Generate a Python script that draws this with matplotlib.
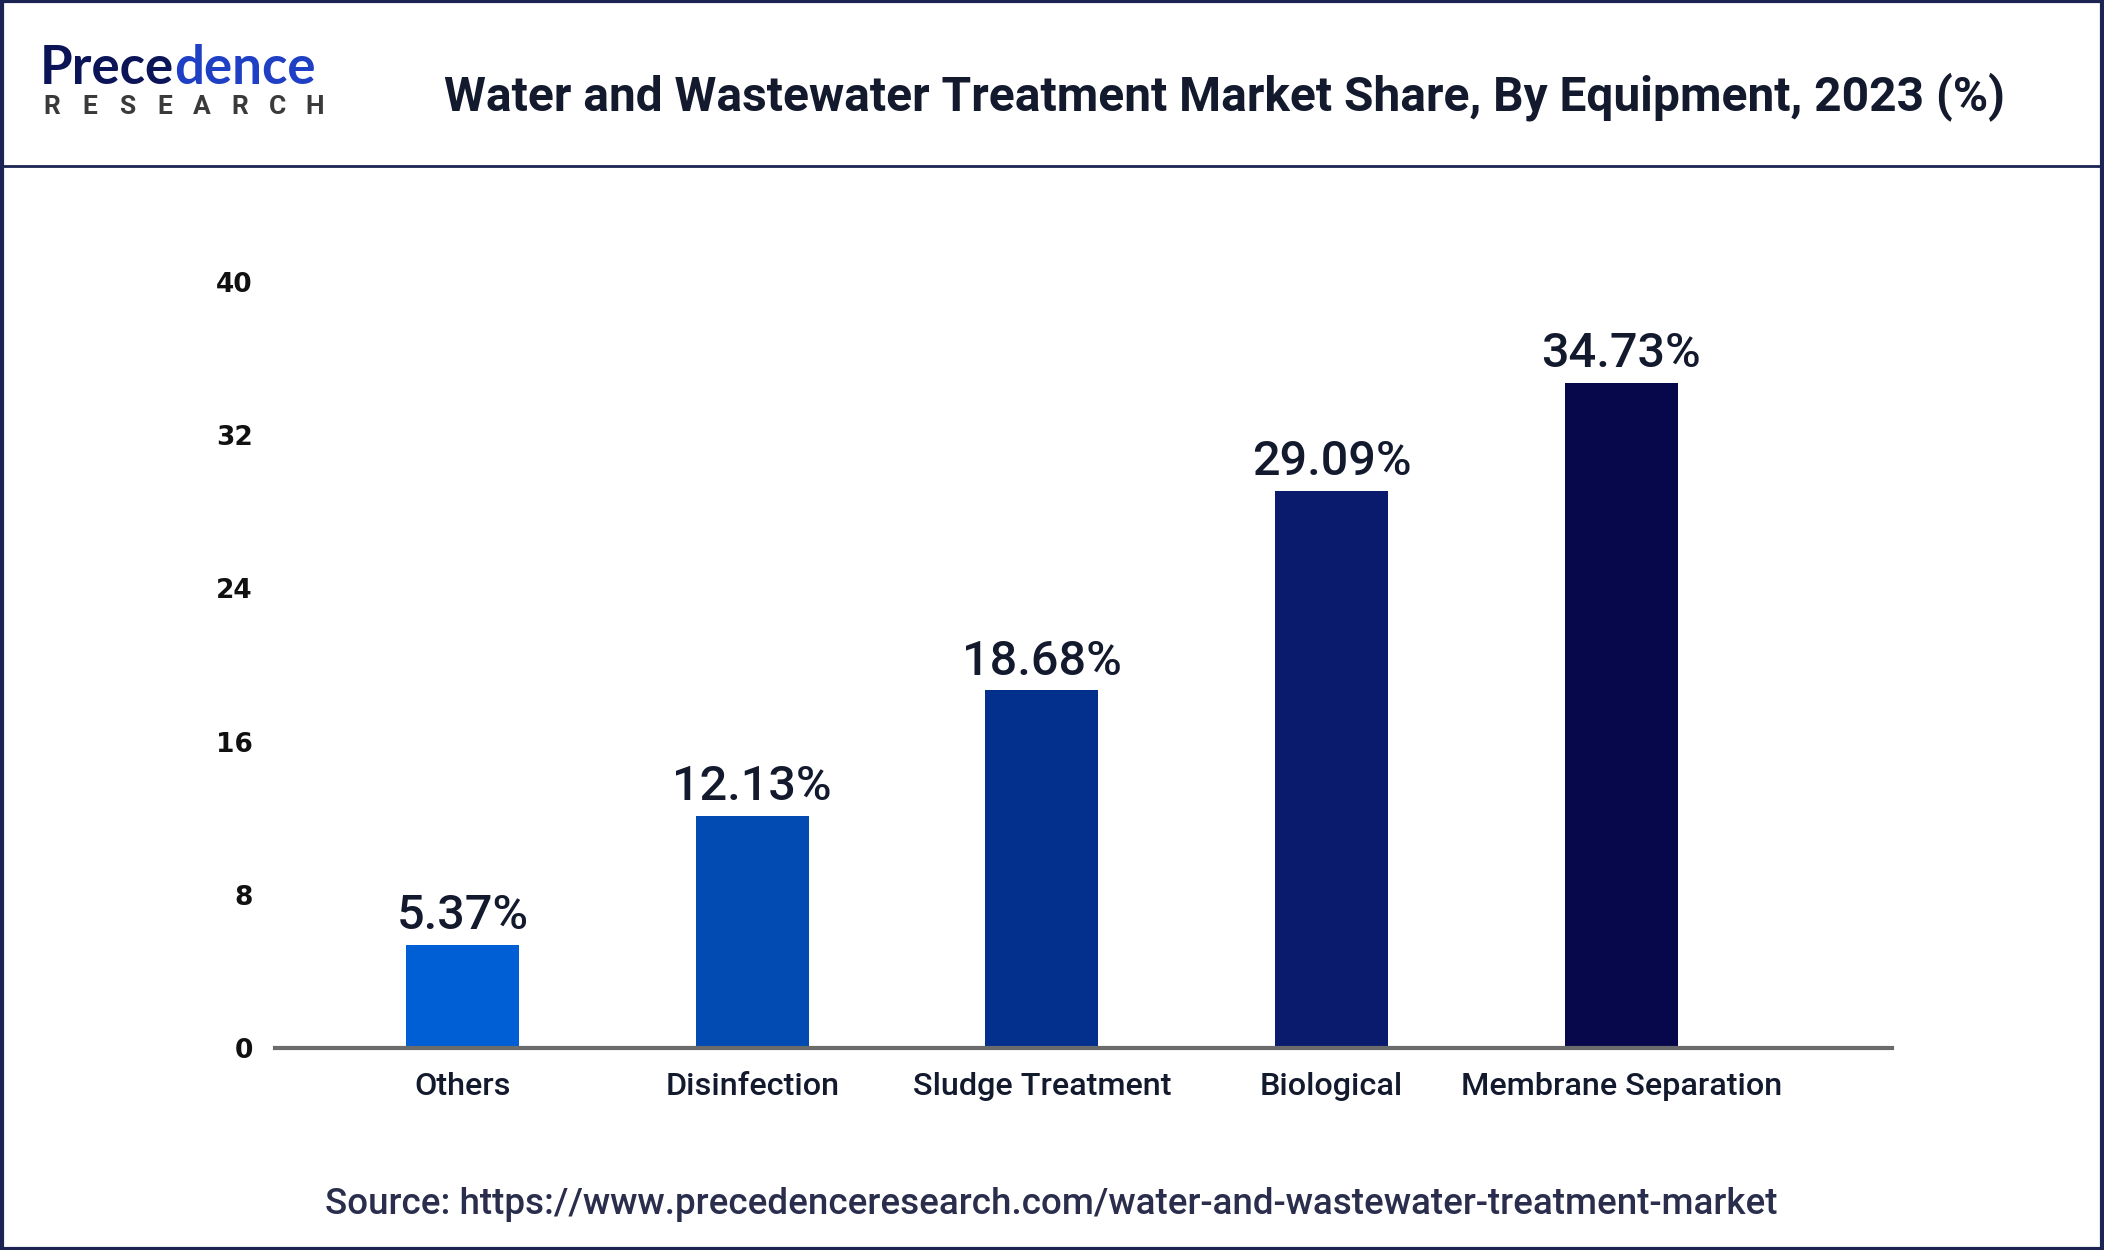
import matplotlib
matplotlib.use("Agg")
import matplotlib.pyplot as plt
from matplotlib.patches import Rectangle
from matplotlib.lines import Line2D

# Data
categories = ["Others", "Disinfection", "Sludge Treatment", "Biological", "Membrane Separation"]
shares = [5.37, 12.13, 18.68, 29.09, 34.73]
bar_colors = ["#005fd5", "#014bb3", "#02308c", "#0a1a6c", "#07074c"]
y_ticks = [0, 8, 16, 24, 32, 40]

title = "Water and Wastewater Treatment Market Share, By Equipment, 2023 (%)"
source = "Source: https://www.precedenceresearch.com/water-and-wastewater-treatment-market"

plt.rcParams["font.family"] = ["Roboto", "DejaVu Sans"]

W, H = 2104, 1250
fig = plt.figure(figsize=(W / 100, H / 100), dpi=100)
fig.patch.set_facecolor("white")

# Frame and header separator
fig.add_artist(Rectangle((0.001, 0.001), 0.998, 0.998, transform=fig.transFigure,
                         fill=False, edgecolor="#1b2452", linewidth=3))
fig.add_artist(Line2D([0, 1], [1 - 166 / H, 1 - 166 / H], transform=fig.transFigure,
                      color="#1b2452", linewidth=2))

# Logo
logo = fig.text(40 / W, 1 - 68 / H, "Prece", fontsize=38, color="#0c1458",
                fontweight="bold", va="center", ha="left", family=["Lato", "DejaVu Sans"])
fig.canvas.draw()
bb = logo.get_window_extent()
fig.text(bb.x1 / W, 1 - 68 / H, "dence", fontsize=38, color="#1f3fc4",
         fontweight="bold", va="center", ha="left", family=["Lato", "DejaVu Sans"])
for i, ch in enumerate("RESEARCH"):
    fig.text((52 + i * 37.5) / W, 1 - 107 / H, ch, fontsize=19, color="#3a3a3a",
             fontweight="bold", va="center", ha="center")

# Title
fig.text(1224 / W, 1 - 97 / H, title, fontsize=34.5, color="#141a2e",
         fontweight="bold", va="center", ha="center")

# Chart
ax = fig.add_axes([275 / W, 1 - 1048 / H, (1892 - 275) / W, (1048 - 282) / H])
x = range(len(categories))
ax.bar(x, shares, width=0.39, color=bar_colors, zorder=2)
ax.set_xlim(-0.648, 4.935)
ax.set_ylim(0, 40)
ax.set_yticks(y_ticks)
ax.set_yticklabels([str(t) for t in y_ticks], fontsize=19, fontweight="bold",
                   family=["DejaVu Sans"], color="#111111")
ax.set_xticks(list(x))
ax.set_xticklabels(categories, fontsize=23.3, fontweight="medium", color="#141a2e")
ax.tick_params(axis="y", length=0, pad=16)
ax.tick_params(axis="x", length=0, pad=17)
for side in ["top", "right", "left"]:
    ax.spines[side].set_visible(False)
ax.spines["bottom"].set_color("#6b6b6b")
ax.spines["bottom"].set_linewidth(3)
ax.spines["bottom"].set_zorder(3)

for xi, v in zip(x, shares):
    ax.text(xi, v + 0.3, f"{v:.2f}%", ha="center", va="bottom", fontsize=35,
            fontweight="medium", color="#141a2e")

# Source
fig.text(1051 / W, 1 - 1205 / H, source, fontsize=26.5, color="#2a2e4c",
         fontweight="medium", va="center", ha="center")

fig.savefig("out.png", dpi=100, facecolor="white")
